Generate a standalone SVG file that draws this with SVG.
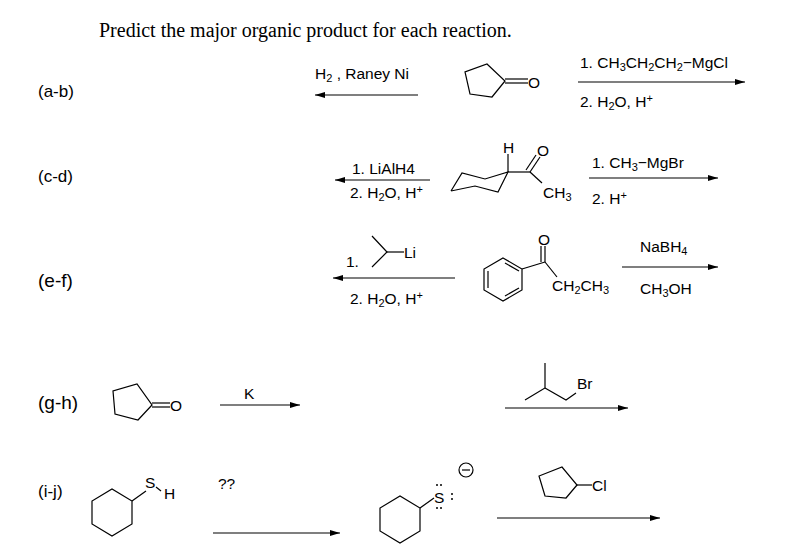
<svg xmlns="http://www.w3.org/2000/svg" width="797" height="547" viewBox="0 0 797 547">
<defs><marker id="ah" markerWidth="10" markerHeight="6" refX="10" refY="3" orient="auto" markerUnits="userSpaceOnUse"><path d="M0,0 L10,3 L0,6 Z" fill="#000"/></marker></defs>
<style>
text{font-family:"Liberation Sans",Arial,sans-serif;font-size:15.5px;fill:#000}
.t{font-family:"Liberation Serif",serif;font-size:20px}
.lb{font-size:17px}
.lb2{font-size:19px}
.b{fill:none;stroke:#000;stroke-width:1.2}
.a{stroke:#000;stroke-width:1.2;marker-end:url(#ah)}
.s{font-size:11px}
</style>
<rect width="797" height="547" fill="#fff"/>
<text class="t" x="99" y="37">Predict the major organic product for each reaction.</text>
<g id="labels">
<text class="lb" x="38" y="97">(a-b)</text>
<text class="lb" x="38" y="182">(c-d)</text>
<text class="lb2" x="38" y="287">(e-f)</text>
<text class="lb2" x="38" y="409">(g-h)</text>
<text class="lb" x="38" y="497">(i-j)</text>
</g>
<g id="ab">
<text x="315" y="79">H<tspan class="s" dy="3">2</tspan><tspan dy="-3"> , Raney Ni</tspan></text>
<polygon class="b" points="505,81 492,97 470,94 465,72 487,64"/>
<line class="b" x1="505" y1="79" x2="528" y2="79"/><line class="b" x1="505" y1="83" x2="528" y2="83"/>
<text x="528" y="88">O</text>
<text x="580" y="68">1.  CH<tspan class="s" dy="3">3</tspan><tspan dy="-3">CH</tspan><tspan class="s" dy="3">2</tspan><tspan dy="-3">CH</tspan><tspan class="s" dy="3">2</tspan><tspan dy="-3">−MgCl</tspan></text>
<text x="580" y="107">2. H<tspan class="s" dy="3">2</tspan><tspan dy="-3">O, H</tspan><tspan class="s" dy="-5">+</tspan></text>
</g>
<g id="cd">
<text x="352" y="174">1. LiAlH4</text>
<text x="350" y="198">2. H<tspan class="s" dy="3">2</tspan><tspan dy="-3">O, H</tspan><tspan class="s" dy="-5">+</tspan></text>
<polyline class="b" points="451,191 462,173 485,179 508,172 498,192 475,186 451,191"/>
<line class="b" x1="508" y1="172" x2="508" y2="154"/>
<text x="503" y="153">H</text>
<line class="b" x1="508" y1="172" x2="530" y2="172"/>
<line class="b" x1="530" y1="172" x2="540" y2="157"/><line class="b" x1="526" y1="170" x2="536" y2="155"/>
<text x="537" y="156">O</text>
<line class="b" x1="530" y1="172" x2="542" y2="183"/>
<text x="543" y="198">CH<tspan class="s" dy="3">3</tspan></text>
<text x="592" y="168">1.  CH<tspan class="s" dy="3">3</tspan><tspan dy="-3">−MgBr</tspan></text>
<text x="592" y="204">2. H<tspan class="s" dy="-5">+</tspan></text>
</g>
<g id="ef">
<text x="346" y="267">1.</text>
<polyline class="b" points="372,236 387,252 372,267"/><line class="b" x1="387" y1="252" x2="404" y2="252"/>
<text x="404" y="258">Li</text>
<text x="350" y="304">2. H<tspan class="s" dy="3">2</tspan><tspan dy="-3">O, H</tspan><tspan class="s" dy="-5">+</tspan></text>
<polygon class="b" points="503,258 522,269 522,290 503,301 484,290 484,269"/>
<line class="b" x1="505" y1="263" x2="519" y2="271"/><line class="b" x1="488" y1="271" x2="488" y2="288"/><line class="b" x1="505" y1="296" x2="519" y2="288"/>
<line class="b" x1="522" y1="269" x2="545" y2="262"/>
<line class="b" x1="545" y1="262" x2="545" y2="246"/><line class="b" x1="541" y1="262" x2="541" y2="246"/>
<text x="538" y="245">O</text>
<line class="b" x1="545" y1="262" x2="557" y2="277"/>
<text x="552" y="291">CH<tspan class="s" dy="3">2</tspan><tspan dy="-3">CH</tspan><tspan class="s" dy="3">3</tspan></text>
<text x="640" y="252">NaBH<tspan class="s" dy="3">4</tspan></text>
<text x="640" y="294">CH<tspan class="s" dy="3">3</tspan><tspan dy="-3">OH</tspan></text>
</g>
<g id="gh">
<polygon class="b" points="152,405 138,420 115,414 113,391 137,384"/>
<line class="b" x1="152" y1="403" x2="170" y2="403"/><line class="b" x1="152" y1="407" x2="170" y2="407"/>
<text x="170" y="411">O</text>
<text x="244" y="399">K</text>
<polyline class="b" points="545,363 545,388 525,400"/><polyline class="b" points="545,388 566,400 576,393"/>
<text x="577" y="389">Br</text>
</g>
<g id="ij">
<polygon class="b" points="132,501 132,524 112,536 92,524 92,501 112,489"/>
<line class="b" x1="132" y1="501" x2="146" y2="491"/>
<text x="145" y="488">S</text>
<line class="b" x1="156" y1="487" x2="161" y2="491"/>
<text x="164" y="499">H</text>
<text x="218" y="489">??</text>
<polygon class="b" points="420,508 420,531 400,543 380,531 380,508 400,496"/>
<line class="b" x1="420" y1="508" x2="434" y2="498"/>
<text x="434" y="503">S</text>
<g fill="#000"><circle cx="437" cy="485" r="1"/><circle cx="441" cy="485" r="1"/><circle cx="437" cy="508" r="1"/><circle cx="441" cy="508" r="1"/><circle cx="452" cy="494" r="1"/><circle cx="452" cy="499" r="1"/></g>
<circle class="b" cx="466" cy="470" r="7"/><line class="b" x1="462" y1="470" x2="470" y2="470"/>
<polygon class="b" points="577,485 566,498 545,496 539,476 562,467"/>
<line class="b" x1="577" y1="485" x2="592" y2="485"/>
<text x="592" y="491">Cl</text>
</g>
<g id="connectors">
<line class="a" x1="418" y1="95" x2="315" y2="95"/>
<line class="a" x1="578" y1="82" x2="745" y2="82"/>
<line class="a" x1="430" y1="180" x2="335" y2="180"/>
<line class="a" x1="589" y1="178" x2="718" y2="178"/>
<line class="a" x1="455" y1="278" x2="333" y2="278"/>
<line class="a" x1="622" y1="267" x2="718" y2="267"/>
<line class="a" x1="220" y1="405" x2="300" y2="405"/>
<line class="a" x1="505" y1="408" x2="628" y2="408"/>
<line class="a" x1="213" y1="533" x2="340" y2="533"/>
<line class="a" x1="497" y1="518" x2="660" y2="518"/>
</g>
</svg>
